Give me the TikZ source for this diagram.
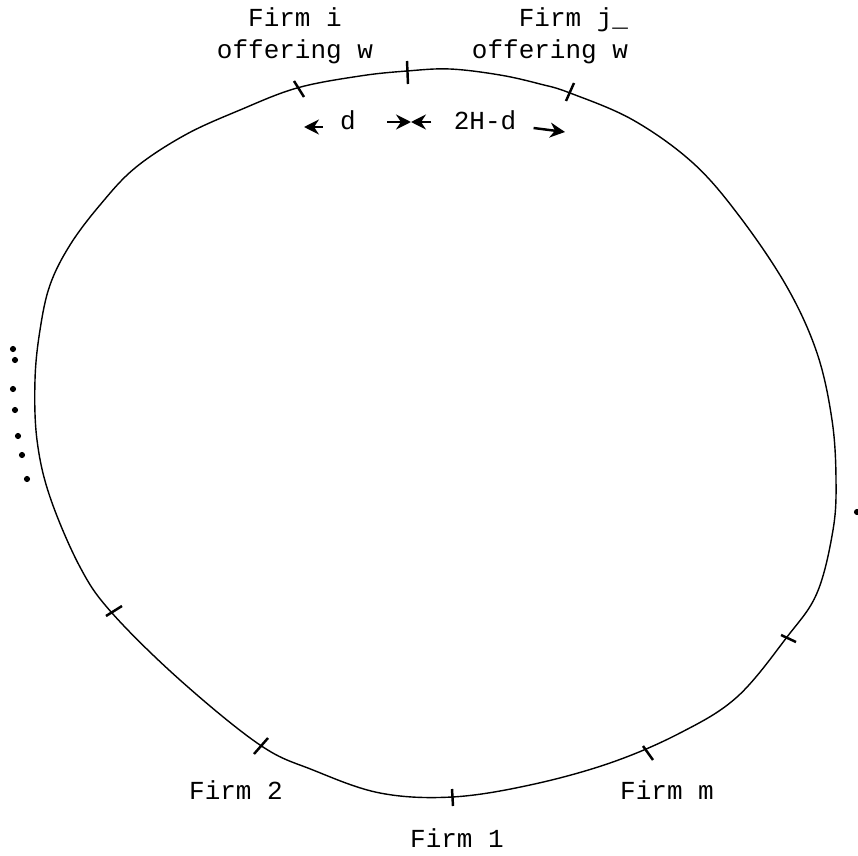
\documentclass[tikz,border=0pt]{standalone}
\usepackage{fontspec}
\setmonofont{Liberation Mono}
\usepackage{tikz}
\usetikzlibrary{positioning,arrows.meta}

\begin{document}
\begin{tikzpicture}[x=0.02cm, y=-0.02cm,
        ring/.style={line width=0.8pt},
        tick/.style={line width=1.4pt},
        label/.style={font=\ttfamily\fontsize{14.8}{18.2}\selectfont, inner sep=0pt},
        arrow/.style={-{Stealth[length=8.5pt,width=8.5pt]}, line width=1.4pt},
        speck/.style={circle, fill=black, inner sep=0pt, minimum size=3.5pt}
    ]
    \useasboundingbox (0,0) rectangle (858,855);

    % The ring of firms
    \draw[ring] plot[smooth cycle, tension=0.6] coordinates {
        (407,71) (450,69) (500,75) (540,84) (570,93) (633,120) (693,163)
        (740,217) (787,287) (817,353) (832,420) (836,480) (833,530)
        (817,593) (787,637) (737,697) (680,733) (610,763) (530,785)
        (452,797) (380,793) (313,770) (260,745) (180,680) (112,613)
        (80,567) (50,497) (37,440) (35,380) (40,330) (50,285) (70,245)
        (100,205) (135,168) (185,135) (240,110) (297,88) (360,76)
    };

    % Firm positions
    \foreach \xa/\ya/\xb/\yb in {294/81/304/97, 407/61/408/84, 574/83/566/101,
                       781/635/796/642, 643/746/653/760, 452/789/453/806,
                       268/738/254/754, 106/616/122/606} {
        \draw[tick] (\xa,\ya) -- (\xb,\yb);
    }

    % Labels
    \node[label, align=center] (firmi) at (295,36) {Firm i\\offering w};
    \node[label, align=right] (firmj) at (550,36) {Firm j\_\\offering w};
    \node[label] (firm2) at (236,790) {Firm 2};
    \node[label] (firmm) at (667,790) {Firm m};
    \node[label] (firm1) at (457,838) {Firm 1};

    % Distances
    \node[label] (dlab) at (348,120) {d};
    \node[label] (rest) at (485,120) {2H-d};
    \coordinate (dleft) at (304,127);
    \coordinate (mid) at (411,122);
    \coordinate (dright) at (565,132);
    \draw[arrow] (dlab.west) ++(-17,7) -- (dleft);
    \draw[arrow] (dlab.east) ++(31,2) -- (mid);
    \draw[arrow] (rest.west) ++(-22,2) -- (mid);
    \draw[arrow] (rest.east) ++(17,8) -- (dright);

    % Dots
    \foreach \x/\y [count=\k] in {13/349, 15/360, 13/389, 15/410, 18/436, 22/455, 27/479, 857/512} {
        \node[speck] (dot\k) at (\x,\y) {};
    }
\end{tikzpicture}
\end{document}
